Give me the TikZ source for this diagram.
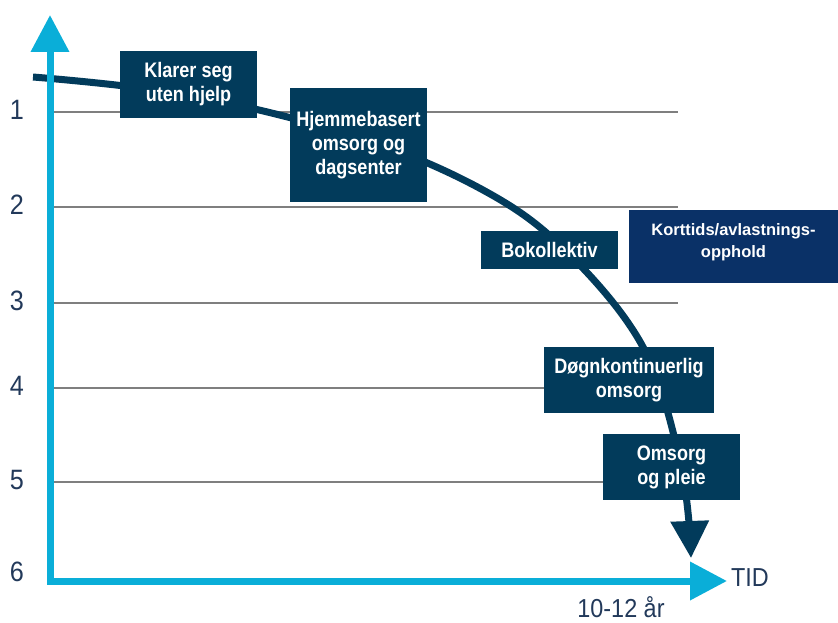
\documentclass[tikz,border=0pt]{standalone}
\usepackage{fontspec}
\setmainfont{Liberation Sans}
\newfontfamily\skalafont[FakeStretch=0.9]{Liberation Sans}
\newfontfamily\boksfont[FakeStretch=0.86]{Liberation Sans}
\usetikzlibrary{arrows.meta}
\definecolor{akse}{HTML}{0AAED8}
\definecolor{marine}{HTML}{023B5B}
\definecolor{kortblaa}{HTML}{0A3167}
\definecolor{skalatekst}{HTML}{22395A}
\definecolor{linjegraa}{HTML}{7F7F7F}

\begin{document}
\begin{tikzpicture}[x=1pt,y=-1pt,>={Triangle[length=37pt,width=37pt]},
    boks/.style={fill=marine,text=white,inner sep=0pt,align=center,
      font=\boksfont\bfseries\fontsize{21}{24}\selectfont},
    kortboks/.style={fill=kortblaa,text=white,inner xsep=0pt,inner ysep=13pt,
      align=center,minimum width=209pt,text height=34pt,text depth=13pt,
      font=\bfseries\fontsize{16.5}{22}\selectfont},
    skala/.style={text=skalatekst,inner sep=0pt,font=\skalafont\fontsize{28}{28}\selectfont},
    nivaa/.style={linjegraa,line width=2.5pt}]
        \useasboundingbox (0,0) rectangle (838,623);

        % Nivaalinjer og skala
        \foreach \y/\n in {112/1,207/2,303/3,388/4,482/5}{
          \draw[nivaa] (50,\y) -- (678,\y);
          \node[skala] (n\n) at (17,\y-2) {\n};
        }
        \node[skala] (n6) at (17,572) {6};

        % Kurven
        \coordinate (start) at (33,77);
        \coordinate (slutt) at (691,558);
        \draw[marine,line width=7pt,->] plot[smooth,tension=0.6] coordinates {(start) (188,95) (358,137) (483,190) (565,250) (643,347) (681,466) (slutt)};

        % Akser
        \coordinate (origo) at (50,581);
        \coordinate (ytopp) at (50,15);
        \coordinate (xtopp) at (727,581);
        \draw[akse,line width=7pt,<->] (ytopp) -- (origo) -- (xtopp);

        % Bokser
        \node[boks,minimum width=137pt,minimum height=67pt] (klarer) at (188.5,84.5) {Klarer seg\\uten hjelp};
        \node[boks,minimum width=137pt,minimum height=114pt] (hjemme) at (358.5,145) {Hjemmebasert\\omsorg og\\dagsenter};
        \node[boks,minimum width=137pt,minimum height=38pt] (bokoll) at (549.5,250) {Bokollektiv};
        \node[boks,minimum width=170pt,minimum height=66pt] (dogn) at (629,380) {Døgnkontinuerlig\\omsorg};
        \node[boks,minimum width=137pt,minimum height=66pt] (pleie) at (671.5,467) {Omsorg\\og pleie};
        \node[kortboks,anchor=north] (korttid) at (733.5,210) {Korttids/avlastnings-\\opphold};

        % Tid
        \node[skala,font=\skalafont\fontsize{26}{26}\selectfont] (tid) at (750,578) {TID};
        \node[skala,font=\skalafont\fontsize{26}{26}\selectfont] (aar) at (621,607) {10-12 år};
    \end{tikzpicture}
\end{document}
